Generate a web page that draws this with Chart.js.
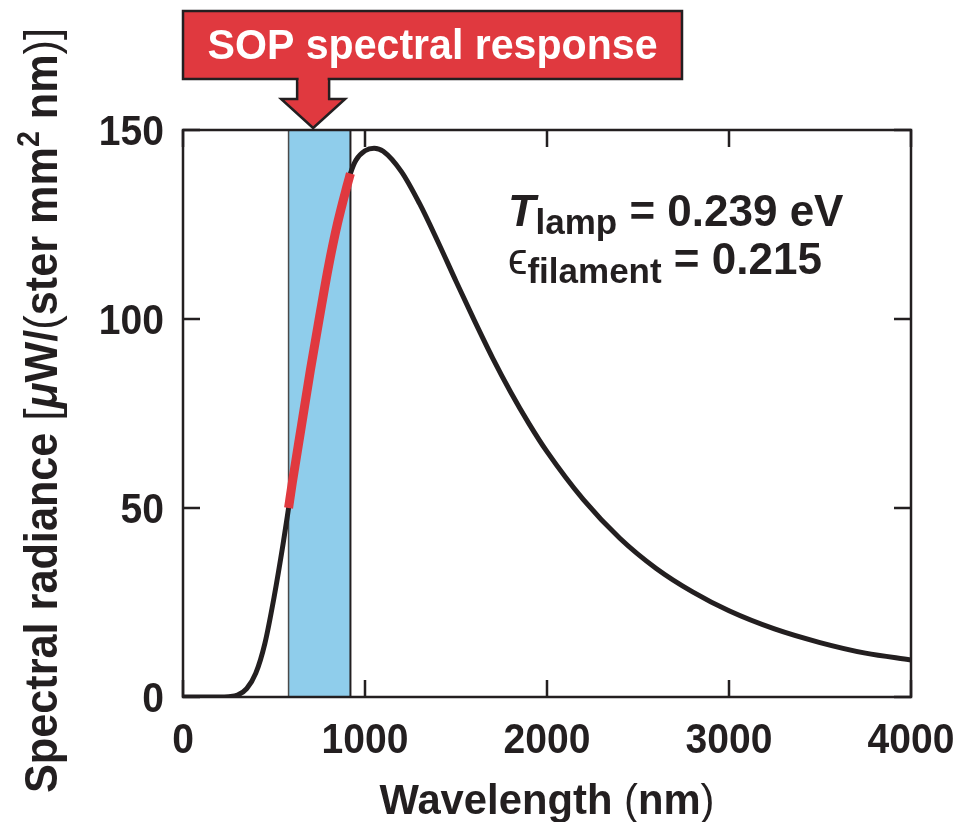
<!DOCTYPE html>
<html>
<head>
<meta charset="utf-8">
<script src="https://cdn.jsdelivr.net/npm/chart.js@4.4.0/dist/chart.umd.min.js"></script>
<style>
  html, body { margin: 0; padding: 0; background: #fff; }
</style>
</head>
<body>
<canvas id="chart" width="961" height="822"></canvas>
<script>
// data
const wavelength = [0, 100, 200, 250, 300, 350, 400, 450, 500, 550, 580, 600, 650, 700, 750, 800, 850, 900, 920, 950,
  1000, 1050, 1100, 1200, 1300, 1400, 1500, 1600, 1700, 1800, 1900, 2000, 2200, 2400, 2600, 2800, 3000, 3250, 3500, 3750, 4000];
const radiance = [0, 0, 0, 0.1, 0.5, 2.2, 6.3, 14.2, 26.3, 40.5, 50, 56.5, 71.5, 86.5, 100.5, 114, 125.5, 135, 138.5, 142,
  144.5, 145.2, 144.4, 139, 130.5, 120.5, 110, 99.7, 89.8, 80.7, 72.4, 64.9, 52.2, 42, 34, 27.8, 22.8, 18, 14.4, 11.6, 9.8];

// SOP response band (nm)
const bandRange = [580, 920];
const arrowAt = 715;

const xTicks = [0, 1000, 2000, 3000, 4000];
const yTicks = [0, 50, 100, 150];

const titleText = "SOP spectral response";

const INK = "#231f20";
const RED = "#e0393f";
const BLUE = "#8fcdeb";
const FONT = '"Liberation Sans", Arial, Helvetica, sans-serif';

var curvePts = wavelength.map(function (w, i) { return { x: w, y: radiance[i] }; });
var bandPts = curvePts.filter(function (p) { return p.x >= bandRange[0] && p.x <= bandRange[1]; });

function runsWidth(ctx, runs) {
  var w = 0;
  runs.forEach(function (r) { ctx.font = r.font; w += ctx.measureText(r.t).width; });
  return w;
}

// draws a row of text pieces (sub/superscripts etc.)
function drawRuns(ctx, runs, x, y, opt) {
  opt = opt || {};
  var sx = opt.sx || 1;
  var w = runsWidth(ctx, runs);
  if (opt.width) sx = opt.width / w;
  ctx.save();
  ctx.translate(x, y);
  if (opt.angle) ctx.rotate(opt.angle);
  ctx.scale(sx, 1);
  ctx.fillStyle = opt.color || INK;
  ctx.textAlign = "left";
  ctx.textBaseline = "alphabetic";
  var cx = opt.align === "center" ? -w / 2 : opt.align === "right" ? -w : 0;
  runs.forEach(function (r) {
    ctx.font = r.font;
    ctx.fillText(r.t, cx, r.dy || 0);
    cx += ctx.measureText(r.t).width;
  });
  ctx.restore();
}

var decorPlugin = {
  id: "decor",
  beforeDatasetsDraw: function (chart) {
    var ctx = chart.ctx, xs = chart.scales.x, a = chart.chartArea;
    var x0 = xs.getPixelForValue(bandRange[0]), x1 = xs.getPixelForValue(bandRange[1]);
    ctx.save();
    ctx.fillStyle = BLUE;
    ctx.fillRect(x0, a.top, x1 - x0, a.bottom - a.top);
    ctx.strokeStyle = "#4a4a4a";
    ctx.lineWidth = 1.5;
    ctx.beginPath(); ctx.moveTo(x0, a.top); ctx.lineTo(x0, a.bottom); ctx.stroke();
    ctx.strokeStyle = INK;
    ctx.lineWidth = 2;
    ctx.beginPath(); ctx.moveTo(x1, a.top); ctx.lineTo(x1, a.bottom); ctx.stroke();
    ctx.restore();
  },
  afterDraw: function (chart) {
    var ctx = chart.ctx, xs = chart.scales.x, ys = chart.scales.y, a = chart.chartArea;
    ctx.save();
    // frame
    ctx.strokeStyle = INK;
    ctx.lineWidth = 2.5;
    ctx.strokeRect(a.left, a.top, a.right - a.left, a.bottom - a.top);
    // inward ticks on all four sides
    var tl = 17;
    ctx.beginPath();
    xTicks.forEach(function (v) {
      var px = xs.getPixelForValue(v);
      ctx.moveTo(px, a.bottom); ctx.lineTo(px, a.bottom - tl);
      ctx.moveTo(px, a.top); ctx.lineTo(px, a.top + tl);
    });
    yTicks.forEach(function (v) {
      var py = ys.getPixelForValue(v);
      ctx.moveTo(a.left, py); ctx.lineTo(a.left + tl, py);
      ctx.moveTo(a.right, py); ctx.lineTo(a.right - tl, py);
    });
    ctx.stroke();

    // tick labels
    var tf = "bold 42px " + FONT;
    var tsx = 0.93;
    xTicks.forEach(function (v) {
      drawRuns(ctx, [{ t: String(v), font: tf }], xs.getPixelForValue(v), a.bottom + 56, { align: "center", sx: tsx });
    });
    yTicks.forEach(function (v) {
      drawRuns(ctx, [{ t: String(v), font: tf }], a.left - 19, ys.getPixelForValue(v) + 15, { align: "right", sx: tsx });
    });

    // axis titles
    var bf = "bold 43px " + FONT, nf = "43px " + FONT;
    drawRuns(ctx, [
      { t: "Wavelength ", font: bf }, { t: "(", font: nf }, { t: "nm", font: bf }, { t: ")", font: nf }
    ], (a.left + a.right) / 2, 814, { align: "center", width: 335 });

    var yf = "bold 47px " + FONT, yn = "47px " + FONT;
    drawRuns(ctx, [
      { t: "Spectral radiance ", font: yf },
      { t: "[", font: yn },
      { t: "\u03bc", font: "italic bold 47px " + FONT },
      { t: "W/", font: yf },
      { t: "(", font: yn },
      { t: "ster mm", font: yf },
      { t: "2", font: "bold 31px " + FONT, dy: -18 },
      { t: " nm", font: yf },
      { t: ")]", font: yn }
    ], 57, (28 + 793) / 2, { align: "center", width: 765, angle: -Math.PI / 2 });

    // annotation
    var af = "bold 44px " + FONT, sf = "bold 35px " + FONT;
    drawRuns(ctx, [
      { t: "T", font: "italic bold 45px " + FONT },
      { t: "lamp", font: sf, dy: 8 },
      { t: " = 0.239 eV", font: af }
    ], 508, 226, {});
    drawRuns(ctx, [
      { t: "\u03f5", font: "44px " + FONT },
      { t: "filament", font: sf, dy: 9 },
      { t: " = 0.215", font: af }
    ], 508, 274, {});

    // title box with arrow pointing at the band
    var tipX = xs.getPixelForValue(arrowAt);
    var boxL = a.left, boxR = 682, boxT = 11, boxB = 79;
    ctx.fillStyle = RED;
    ctx.strokeStyle = INK;
    ctx.lineWidth = 2.5;
    ctx.lineJoin = "miter";
    ctx.beginPath();
    ctx.moveTo(tipX - 16, boxB);
    ctx.lineTo(tipX - 16, 99);
    ctx.lineTo(tipX - 32, 99);
    ctx.lineTo(tipX, a.top - 2);
    ctx.lineTo(tipX + 32, 99);
    ctx.lineTo(tipX + 16, 99);
    ctx.lineTo(tipX + 16, boxB);
    ctx.fill();
    ctx.stroke();
    ctx.fillRect(boxL, boxT, boxR - boxL, boxB - boxT);
    ctx.strokeRect(boxL, boxT, boxR - boxL, boxB - boxT);
    ctx.fillRect(tipX - 14.5, boxB - 3, 29, 6);
    drawRuns(ctx, [{ t: titleText, font: "bold 43px " + FONT }], (boxL + boxR) / 2, 59,
      { align: "center", width: 450, color: "#ffffff" });
    ctx.restore();
  }
};

new Chart(document.getElementById("chart"), {
  type: "scatter",
  data: {
    datasets: [
      {
        label: "Spectral radiance",
        data: curvePts,
        showLine: true,
        borderColor: INK,
        borderWidth: 5,
        pointRadius: 0,
        cubicInterpolationMode: "monotone",
        order: 2
      },
      {
        label: "SOP band",
        data: bandPts,
        showLine: true,
        borderColor: RED,
        borderWidth: 9,
        borderCapStyle: "butt",
        pointRadius: 0,
        cubicInterpolationMode: "monotone",
        order: 1
      }
    ]
  },
  options: {
    responsive: false,
    animation: false,
    devicePixelRatio: 1,
    layout: { padding: { top: 130, right: 50, left: 0, bottom: 0 }, autoPadding: false },
    plugins: { legend: { display: false }, tooltip: { enabled: false } },
    scales: {
      x: {
        type: "linear", min: 0, max: 4000,
        grid: { display: false }, border: { display: false },
        ticks: { display: false },
        afterFit: function (s) { s.height = 125; }
      },
      y: {
        type: "linear", min: 0, max: 150,
        grid: { display: false }, border: { display: false },
        ticks: { display: false },
        afterFit: function (s) { s.width = 183; }
      }
    }
  },
  plugins: [decorPlugin]
});
</script>
</body>
</html>
